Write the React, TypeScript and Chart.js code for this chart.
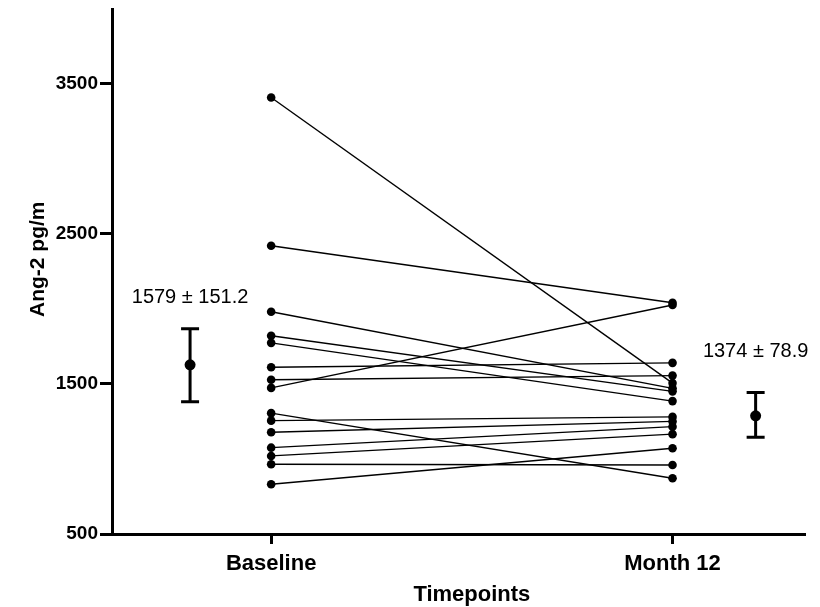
import React, { useEffect, useRef } from "react";
import { Chart, registerables } from "chart.js";

Chart.register(...registerables);

const TIMEPOINTS = ["Baseline", "Month 12"];
const BASELINE = [3407, 2420, 1980, 1820, 1773, 1611, 1527, 1473, 1305, 1255, 1178, 1075, 1020, 965, 831];
const MONTH12 = [1505, 2040, 1470, 1450, 1385, 1640, 1555, 2025, 871, 1280, 1250, 1215, 1165, 960, 1071];
const SUMMARY_X = [0.798, 2.207];
const SUMMARY_MEAN = [1627, 1287];
const SUMMARY_LOW = [1380, 1144];
const SUMMARY_HIGH = [1867, 1442];
const SUMMARY_LABELS = ["1579 ± 151.2", "1374 ± 78.9"];
const SUMMARY_LABEL_Y = [2073, 1713];
const Y_TICKS = [500, 1500, 2500, 3500];
const X_TITLE = "Timepoints";
const Y_TITLE = "Ang-2 pg/m";

const FONT = "'Liberation Sans', Arial, Helvetica, sans-serif";

const errorBarPlugin = {
  id: "errorBars",
  afterDatasetsDraw(chart: any) {
    const { ctx, scales } = chart;
    const xs = scales.x;
    const ys = scales.y;
    ctx.save();
    ctx.strokeStyle = "#000";
    ctx.lineWidth = 3;
    for (let i = 0; i < SUMMARY_X.length; i++) {
      const px = xs.getPixelForValue(SUMMARY_X[i]);
      const pLow = ys.getPixelForValue(SUMMARY_LOW[i]);
      const pHigh = ys.getPixelForValue(SUMMARY_HIGH[i]);
      ctx.beginPath();
      ctx.moveTo(px, pLow);
      ctx.lineTo(px, pHigh);
      ctx.moveTo(px - 9, pLow);
      ctx.lineTo(px + 9, pLow);
      ctx.moveTo(px - 9, pHigh);
      ctx.lineTo(px + 9, pHigh);
      ctx.stroke();
      ctx.fillStyle = "#000";
      ctx.font = `20px ${FONT}`;
      ctx.textAlign = "center";
      ctx.textBaseline = "middle";
      ctx.fillText(SUMMARY_LABELS[i], px, ys.getPixelForValue(SUMMARY_LABEL_Y[i]));
    }
    ctx.font = `bold 22px ${FONT}`;
    ctx.textAlign = "center";
    ctx.textBaseline = "middle";
    const mid = (xs.getPixelForValue(1) + xs.getPixelForValue(2)) / 2;
    ctx.fillText(X_TITLE, mid, chart.height - 12);
    ctx.save();
    ctx.font = `bold 21px ${FONT}`;
    ctx.translate(30, ys.getPixelForValue(2330));
    ctx.rotate(-Math.PI / 2);
    ctx.fillText(Y_TITLE, 0, 0);
    ctx.restore();
    ctx.restore();
  },
};

export default function App() {
  const ref = useRef<HTMLCanvasElement | null>(null);
  useEffect(() => {
    if (!ref.current) return;
    const datasets: any[] = BASELINE.map((b, i) => ({
      type: "line",
      data: [
        { x: 1, y: b },
        { x: 2, y: MONTH12[i] },
      ],
      borderColor: "#000",
      backgroundColor: "#000",
      borderWidth: 1.4,
      pointRadius: 4.3,
      pointBackgroundColor: "#000",
      pointBorderWidth: 0,
      showLine: true,
    }));
    datasets.push({
      type: "scatter",
      data: SUMMARY_X.map((x, i) => ({ x, y: SUMMARY_MEAN[i] })),
      backgroundColor: "#000",
      borderWidth: 0,
      pointRadius: 5.5,
    });
    const chart = new Chart(ref.current, {
      type: "line",
      data: { datasets },
      plugins: [errorBarPlugin],
      options: {
        animation: false,
        responsive: true,
        maintainAspectRatio: false,
        layout: { padding: { top: 0, right: 7 } },
        plugins: { legend: { display: false }, tooltip: { enabled: false } },
        scales: {
          x: {
            type: "linear",
            min: 0.6035,
            max: 2.33,
            afterBuildTicks: (axis: any) => {
              axis.ticks = [{ value: 1 }, { value: 2 }];
            },
            afterFit: (scale: any) => {
              scale.height = 73;
              scale.paddingLeft = 0;
              scale.paddingRight = 0;
            },
            ticks: {
              callback: (v: any) => (v === 1 ? TIMEPOINTS[0] : v === 2 ? TIMEPOINTS[1] : ""),
              color: "#000",
              font: { family: FONT, size: 22, weight: "bold" },
              padding: 7,
              maxRotation: 0,
            },
            grid: {
              display: true,
              drawOnChartArea: false,
              drawTicks: true,
              tickLength: 10,
              tickWidth: 3,
              tickColor: "#000",
            },
            border: { display: true, color: "#000", width: 3 },
            title: { display: false },
          },
          y: {
            type: "linear",
            min: 500,
            max: 4000,
            afterBuildTicks: (axis: any) => {
              axis.ticks = Y_TICKS.map((v) => ({ value: v }));
            },
            afterFit: (scale: any) => {
              scale.width = 104;
              scale.paddingTop = 0;
              scale.paddingBottom = 0;
            },
            ticks: {
              callback: (v: any) => String(v),
              color: "#000",
              font: { family: FONT, size: 19, weight: "bold" },
              padding: 2,
            },
            grid: {
              display: true,
              drawOnChartArea: false,
              drawTicks: true,
              tickLength: 12,
              tickWidth: 3,
              tickColor: "#000",
            },
            border: { display: true, color: "#000", width: 3 },
            title: { display: false },
          },
        },
      },
    } as any);
    return () => chart.destroy();
  }, []);
  return (
    <div style={{ width: 804, height: 604, marginTop: -5, position: "relative" }}>
      <canvas ref={ref} />
    </div>
  );
}
